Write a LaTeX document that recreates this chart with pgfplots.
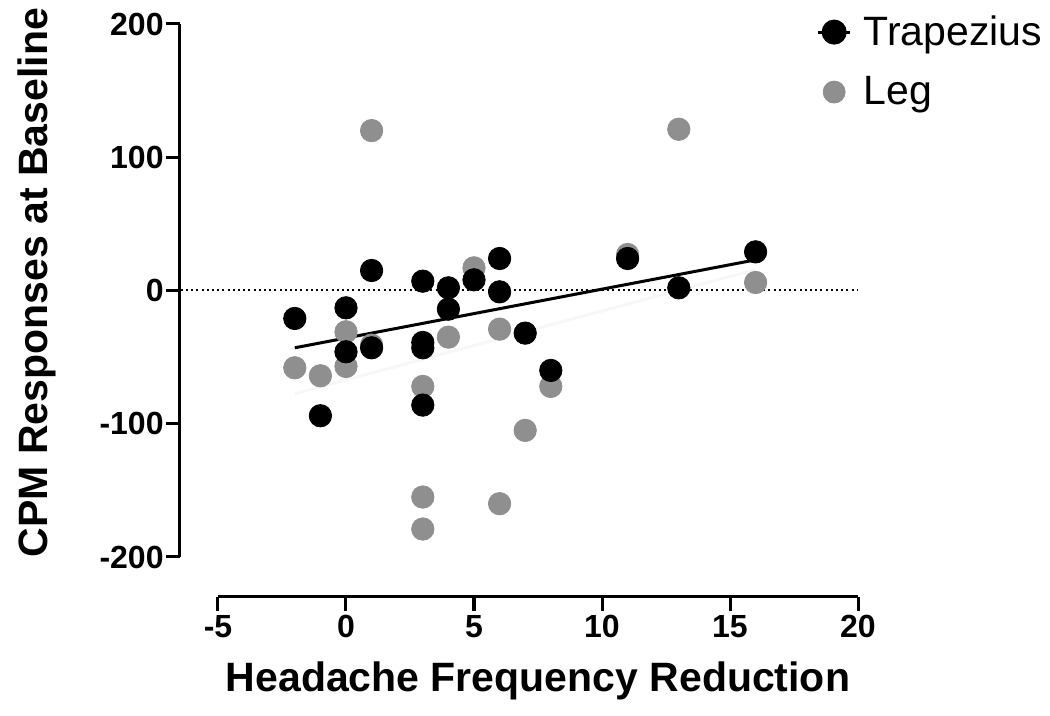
\documentclass[border=0pt]{standalone}
\usepackage{pgfplots}
\pgfplotsset{compat=1.18}
\usepackage{fontspec}
\setmainfont{Liberation Sans}
\definecolor{leggray}{HTML}{8F8F8F}
\begin{document}
\begin{tikzpicture}
\begin{axis}[
  scale only axis, width=320pt, height=266.5pt,
  xmin=-5, xmax=20, ymin=-200, ymax=200,
  axis x line*=bottom, axis y line*=left,
  axis x line shift=20pt, axis y line shift=19pt,
  axis line style={line width=1.5pt, black},
  xtick={-5,0,5,10,15,20}, xticklabels={-5,0,5,10,15,20},
  ytick={-200,-100,0,100,200}, yticklabels={-200,-100,0,100,200},
  minor tick num=0,
  tick align=outside, major tick length=7pt,
  tick style={line width=1.5pt, black},
  ticklabel style={font=\bfseries\fontsize{16}{19}\selectfont},
  yticklabel style={inner xsep=1pt},
  xticklabel style={inner ysep=2pt},
  xlabel={Headache Frequency Reduction},
  ylabel={CPM Responses at Baseline},
  label style={font=\bfseries\fontsize{20.5}{24}\selectfont},
  xlabel style={at={(axis description cs:0.5,0)}, anchor=base, yshift=-67.5pt},
  ylabel style={at={(axis description cs:0,0.5)}, anchor=base, xshift=4pt, yshift=85pt},
  clip=false,
  legend image code/.code={\draw[mark repeat=2,mark phase=2,#1] plot coordinates {(0pt,0pt)(8pt,0pt)(16pt,0pt)};},
  legend style={draw=none, fill=none, at={(axis cs:18.37,211)}, anchor=north west,
    font=\fontsize{20.5}{24}\selectfont, row sep=8pt, inner sep=0pt,
    nodes={inner sep=3pt, inner xsep=6pt}},
  legend cell align=left,
]
\coordinate (bl) at (axis cs:-5,-200);
\addlegendimage{black, line width=1.5pt, mark=*, mark size=5.5pt}
\addlegendentry{Trapezius}
\addlegendimage{leggray, only marks, mark=*, mark size=5.5pt}
\addlegendentry{Leg}
% zero reference line
\addplot[forget plot, black, line width=1pt, dash pattern=on 1pt off 1.6pt] coordinates {(-6.45,0) (20,0)};
% faint leg fit
\addplot[forget plot, black!3, line width=1.5pt] coordinates {(-2,-77.5) (16,15.7)};
% Leg
\addplot[forget plot, only marks, mark=*, mark size=5.6pt, leggray, mark options={fill=leggray, draw=leggray}] coordinates {
(-2,-58) (-1,-64) (0,-31) (0,-57) (1,-41) (1,120) (3,-72) (3,-155) (3,-179)
(4,-35) (5,17) (6,-29) (6,-160) (7,-105) (8,-72) (11,27) (13,121) (16,6)
};
% Trapezius
\addplot[forget plot, only marks, mark=*, mark size=5.6pt, black] coordinates {
(-2,-21) (-1,-94) (0,-13) (0,-46) (1,15) (1,-43) (3,7) (3,-39) (3,-43) (3,-86)
(4,2) (4,-14) (5,8) (6,24) (6,-1) (7,-32) (8,-60) (11,24) (13,2) (16,29)
};
% Trapezius fit
\addplot[forget plot, black, line width=1.5pt] coordinates {(-2,-43) (16,23)};
\end{axis}
\pgfresetboundingbox
\path[use as bounding box] ([shift={(-109pt,-79.5pt)}]bl) rectangle ([shift={(416pt,278.5pt)}]bl);
\end{tikzpicture}
\end{document}
